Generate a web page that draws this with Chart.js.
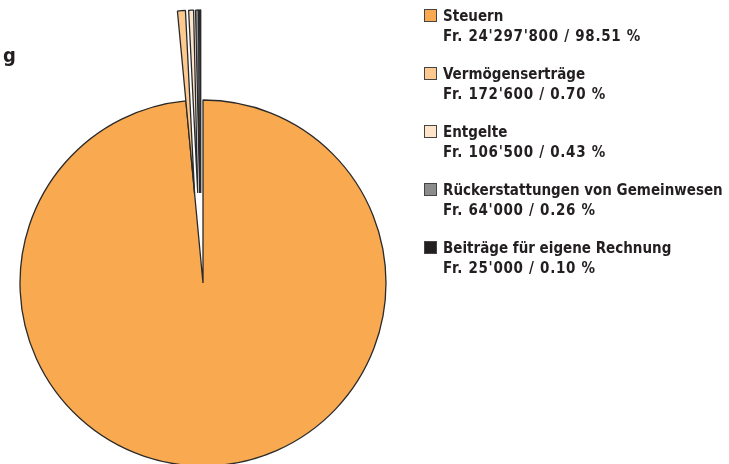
<!DOCTYPE html>
<html>
<head>
<meta charset="utf-8">
<script src="https://cdn.jsdelivr.net/npm/chart.js@4.4.1/dist/chart.umd.min.js"></script>
<style>
  html, body { margin: 0; padding: 0; background: #fff; overflow: hidden; }
  #wrap { position: relative; width: 729px; height: 464px; }
  #chart { position: absolute; left: 0; top: 0; }
  .txt {
    font-family: "DejaVu Sans Condensed", "DejaVu Sans", sans-serif;
    font-stretch: condensed;
    font-weight: bold;
    color: #231f20;
  }
  #cut-title { position: absolute; left: 3px; top: 43px; font-size: 20px; }
  #legend { position: absolute; left: 424px; top: 0; }
  .item { position: absolute; left: 0; width: 300px; font-size: 15px; line-height: 19.5px; }
  .item .box {
    position: absolute; left: 0; top: 9px; width: 11px; height: 11px;
    border: 1.5px solid #444;
  }
  .item .l1, .item .l2 { position: absolute; left: 19px; white-space: nowrap; }
  .item .l1 { top: 7px; }
  .item .l2 { top: 26.5px; letter-spacing: 0.7px; }
</style>
</head>
<body>
<div id="wrap">
  <canvas id="chart" width="729" height="464"></canvas>
  <div id="cut-title" class="txt">g</div>
  <div id="legend" class="txt"></div>
</div>
<script>
document.addEventListener("DOMContentLoaded", function () {
  const labels = ["Steuern", "Vermögenserträge", "Entgelte", "Rückerstattungen von Gemeinwesen", "Beiträge für eigene Rechnung"];
  const amounts = [24297800, 172600, 106500, 64000, 25000];
  const colors = ["#f9a950", "#fdc98f", "#fee4c9", "#8c8c8c", "#231f20"];
  const exploded = [false, true, true, true, true];

  const total = amounts.reduce((a, b) => a + b, 0);

  function fmt(n) {
    return String(n).replace(/\B(?=(\d{3})+(?!\d))/g, "'");
  }

  // legend built as html, two lines per entry
  const legend = document.getElementById("legend");
  labels.forEach((name, i) => {
    const pct = (amounts[i] / total * 100).toFixed(2);
    const div = document.createElement("div");
    div.className = "item";
    div.style.top = (i * 58) + "px";
    div.innerHTML = `<span class="box" style="background:${colors[i]}"></span>` +
      `<span class="l1">${name}</span>` +
      `<span class="l2">Fr. ${fmt(amounts[i])} / ${pct} %</span>`;
    legend.appendChild(div);
  });

  // push the small slices out along their own mid angle
  const explodePlugin = {
    id: "explode",
    afterUpdate(chart) {
      const meta = chart.getDatasetMeta(0);
      meta.data.forEach((arc, i) => {
        if (!exploded[i]) return;
        const mid = (arc.startAngle + arc.endAngle) / 2;
        arc.x += Math.cos(mid) * 90 - 2;
        arc.y += Math.sin(mid) * 90;
      });
    }
  };

  const ctx = document.getElementById("chart").getContext("2d");
  new Chart(ctx, {
    type: "pie",
    data: {
      labels: labels,
      datasets: [{
        data: amounts,
        backgroundColor: colors,
        borderColor: "#2a2a2a",
        borderWidth: 1.3,
        clip: false
      }]
    },
    options: {
      responsive: false,
      animation: false,
      radius: 183,
      layout: { padding: { left: 0, right: 323, top: 102, bottom: 0 } },
      plugins: {
        legend: { display: false },
        tooltip: { enabled: false }
      }
    },
    plugins: [explodePlugin]
  });
});
</script>
</body>
</html>
